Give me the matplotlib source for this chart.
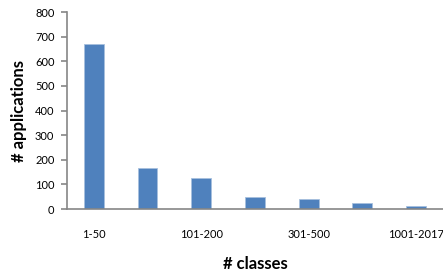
import matplotlib.pyplot as plt

plt.rcParams['font.family'] = ['Lato', 'DejaVu Sans']

categories = ['1-50', '51-100', '101-200', '201-300', '301-500', '501-1000', '1001-2017']
applications = [670, 168, 128, 50, 43, 25, 12]
yticks = [0, 100, 200, 300, 400, 500, 600, 700, 800]

axis_gray = '#868686'

fig = plt.figure(figsize=(4.43, 2.73), dpi=100)
ax = fig.add_axes([0.151, 0.234, 0.849, 0.722])

x = range(len(categories))
ax.bar(x, applications, width=0.37, color='#4F81BD', edgecolor='#A7C0DE', linewidth=0.6)

ax.set_xlim(-0.5, len(categories) - 0.5)
ax.set_ylim(0, 800)
ax.set_yticks(yticks)
ax.set_xticks(list(x))
# only every other category is labelled, like the original
ax.set_xticklabels([c if i % 2 == 0 else '' for i, c in enumerate(categories)])

for side in ['top', 'right']:
    ax.spines[side].set_visible(False)
for side in ['left', 'bottom']:
    ax.spines[side].set_color(axis_gray)
    ax.spines[side].set_linewidth(1.2)

ax.tick_params(axis='y', direction='out', length=4, color=axis_gray, width=1.2,
               labelsize=8, pad=5)
ax.tick_params(axis='x', length=0, labelsize=8, pad=14)

ax.set_xlabel('# classes', fontsize=12, fontweight='bold', labelpad=12)
ax.set_ylabel('# applications', fontsize=12, fontweight='bold', labelpad=6)

fig.savefig('out.png', dpi=100)
